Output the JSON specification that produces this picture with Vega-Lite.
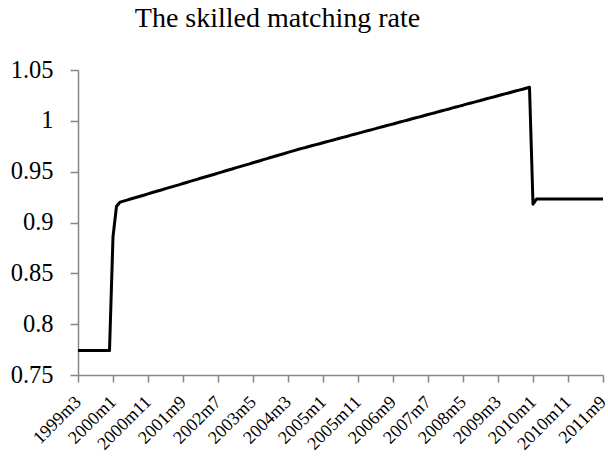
{
  "$schema": "https://vega.github.io/schema/vega-lite/v6.json",
  "width": 525,
  "height": 305,
  "autosize": {"type": "none"},
  "padding": {"left": 78, "top": 70, "right": 5, "bottom": 89},
  "background": "white",
  "title": {"text": "The skilled matching rate", "font": "Liberation Serif", "fontSize": 28, "fontWeight": "normal", "color": "black", "anchor": "middle", "dx": -63, "offset": 24},
  "data": {"values": [
    {"t":"1999m3","v":0.774},{"t":"1999m4","v":0.774},{"t":"1999m5","v":0.774},{"t":"1999m6","v":0.774},{"t":"1999m7","v":0.774},{"t":"1999m8","v":0.774},{"t":"1999m9","v":0.774},{"t":"1999m10","v":0.774},{"t":"1999m11","v":0.774},{"t":"1999m12","v":0.774},
    {"t":"2000m1","v":0.886},{"t":"2000m2","v":0.916},{"t":"2000m3","v":0.9200},{"t":"2000m4","v":0.9210},{"t":"2000m5","v":0.9220},{"t":"2000m6","v":0.9231},{"t":"2000m7","v":0.9241},{"t":"2000m8","v":0.9251},{"t":"2000m9","v":0.9261},{"t":"2000m10","v":0.9271},{"t":"2000m11","v":0.9282},{"t":"2000m12","v":0.9292},
    {"t":"2001m1","v":0.9302},{"t":"2001m2","v":0.9312},{"t":"2001m3","v":0.9322},{"t":"2001m4","v":0.9333},{"t":"2001m5","v":0.9343},{"t":"2001m6","v":0.9353},{"t":"2001m7","v":0.9363},{"t":"2001m8","v":0.9373},{"t":"2001m9","v":0.9384},{"t":"2001m10","v":0.9394},{"t":"2001m11","v":0.9404},{"t":"2001m12","v":0.9414},
    {"t":"2002m1","v":0.9424},{"t":"2002m2","v":0.9435},{"t":"2002m3","v":0.9445},{"t":"2002m4","v":0.9455},{"t":"2002m5","v":0.9465},{"t":"2002m6","v":0.9475},{"t":"2002m7","v":0.9486},{"t":"2002m8","v":0.9496},{"t":"2002m9","v":0.9506},{"t":"2002m10","v":0.9516},{"t":"2002m11","v":0.9526},{"t":"2002m12","v":0.9537},
    {"t":"2003m1","v":0.9547},{"t":"2003m2","v":0.9557},{"t":"2003m3","v":0.9567},{"t":"2003m4","v":0.9577},{"t":"2003m5","v":0.9588},{"t":"2003m6","v":0.9598},{"t":"2003m7","v":0.9608},{"t":"2003m8","v":0.9618},{"t":"2003m9","v":0.9628},{"t":"2003m10","v":0.9639},{"t":"2003m11","v":0.9649},{"t":"2003m12","v":0.9659},
    {"t":"2004m1","v":0.9669},{"t":"2004m2","v":0.9679},{"t":"2004m3","v":0.9690},{"t":"2004m4","v":0.9700},{"t":"2004m5","v":0.9710},{"t":"2004m6","v":0.9720},{"t":"2004m7","v":0.9729},{"t":"2004m8","v":0.9738},{"t":"2004m9","v":0.9748},{"t":"2004m10","v":0.9757},{"t":"2004m11","v":0.9766},{"t":"2004m12","v":0.9775},
    {"t":"2005m1","v":0.9785},{"t":"2005m2","v":0.9794},{"t":"2005m3","v":0.9803},{"t":"2005m4","v":0.9812},{"t":"2005m5","v":0.9822},{"t":"2005m6","v":0.9831},{"t":"2005m7","v":0.9840},{"t":"2005m8","v":0.9849},{"t":"2005m9","v":0.9859},{"t":"2005m10","v":0.9868},{"t":"2005m11","v":0.9877},{"t":"2005m12","v":0.9886},
    {"t":"2006m1","v":0.9896},{"t":"2006m2","v":0.9905},{"t":"2006m3","v":0.9914},{"t":"2006m4","v":0.9923},{"t":"2006m5","v":0.9933},{"t":"2006m6","v":0.9942},{"t":"2006m7","v":0.9951},{"t":"2006m8","v":0.9960},{"t":"2006m9","v":0.9969},{"t":"2006m10","v":0.9979},{"t":"2006m11","v":0.9988},{"t":"2006m12","v":0.9997},
    {"t":"2007m1","v":1.0006},{"t":"2007m2","v":1.0016},{"t":"2007m3","v":1.0025},{"t":"2007m4","v":1.0034},{"t":"2007m5","v":1.0043},{"t":"2007m6","v":1.0053},{"t":"2007m7","v":1.0062},{"t":"2007m8","v":1.0071},{"t":"2007m9","v":1.0080},{"t":"2007m10","v":1.0090},{"t":"2007m11","v":1.0099},{"t":"2007m12","v":1.0108},
    {"t":"2008m1","v":1.0117},{"t":"2008m2","v":1.0127},{"t":"2008m3","v":1.0136},{"t":"2008m4","v":1.0145},{"t":"2008m5","v":1.0154},{"t":"2008m6","v":1.0164},{"t":"2008m7","v":1.0173},{"t":"2008m8","v":1.0182},{"t":"2008m9","v":1.0191},{"t":"2008m10","v":1.0200},{"t":"2008m11","v":1.0210},{"t":"2008m12","v":1.0219},
    {"t":"2009m1","v":1.0228},{"t":"2009m2","v":1.0237},{"t":"2009m3","v":1.0247},{"t":"2009m4","v":1.0256},{"t":"2009m5","v":1.0265},{"t":"2009m6","v":1.0274},{"t":"2009m7","v":1.0284},{"t":"2009m8","v":1.0293},{"t":"2009m9","v":1.0302},{"t":"2009m10","v":1.0311},{"t":"2009m11","v":1.0321},{"t":"2009m12","v":1.0330},
    {"t":"2010m1","v":0.918},{"t":"2010m2","v":0.923},{"t":"2010m3","v":0.923},{"t":"2010m4","v":0.923},{"t":"2010m5","v":0.923},{"t":"2010m6","v":0.923},{"t":"2010m7","v":0.923},{"t":"2010m8","v":0.923},{"t":"2010m9","v":0.923},{"t":"2010m10","v":0.923},{"t":"2010m11","v":0.923},{"t":"2010m12","v":0.923},
    {"t":"2011m1","v":0.923},{"t":"2011m2","v":0.923},{"t":"2011m3","v":0.923},{"t":"2011m4","v":0.923},{"t":"2011m5","v":0.923},{"t":"2011m6","v":0.923},{"t":"2011m7","v":0.923},{"t":"2011m8","v":0.923},{"t":"2011m9","v":0.923}
  ]},
  "mark": {"type": "line", "color": "black", "strokeWidth": 3, "strokeJoin": "round"},
  "encoding": {
    "x": {
      "field": "t", "type": "ordinal", "sort": null,
      "scale": {"type": "point", "padding": 0},
      "axis": {
        "title": null,
        "values": ["1999m3","2000m1","2000m11","2001m9","2002m7","2003m5","2004m3","2005m1","2005m11","2006m9","2007m7","2008m5","2009m3","2010m1","2010m11","2011m9"],
        "labelAngle": -45, "labelAlign": "right", "labelBaseline": "middle",
        "labelFont": "Liberation Serif", "labelFontSize": 18, "labelColor": "black",
        "labelPadding": 17, "labelDx": -7, "labelOverlap": false, "labelBound": false, "labelFlush": false,
        "domainColor": "#868686", "domainWidth": 1.5, "tickColor": "#868686", "tickWidth": 1.5, "tickSize": 7,
        "grid": false
      }
    },
    "y": {
      "field": "v", "type": "quantitative",
      "scale": {"domain": [0.75, 1.05], "nice": false, "zero": false},
      "axis": {
        "title": null,
        "values": [0.75, 0.8, 0.85, 0.9, 0.95, 1, 1.05],
        "format": "~g",
        "labelFont": "Liberation Serif", "labelFontSize": 24.5, "labelColor": "black",
        "labelPadding": 17, "labelFlush": false,
        "domainColor": "#868686", "domainWidth": 1.5, "tickColor": "#868686", "tickWidth": 1.5, "tickSize": 8,
        "grid": false
      }
    }
  },
  "config": {"view": {"stroke": null}}
}
